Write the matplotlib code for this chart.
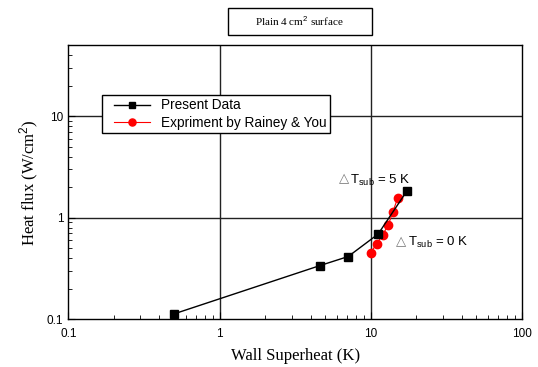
import matplotlib
matplotlib.use("Agg")
import matplotlib.pyplot as plt
from matplotlib import patches
from matplotlib.legend_handler import HandlerLine2D

plt.rcParams['font.family'] = ['Liberation Sans', 'DejaVu Sans']
plt.rcParams['mathtext.fontset'] = 'custom'
plt.rcParams['mathtext.rm'] = 'Liberation Sans'
plt.rcParams['mathtext.it'] = 'Liberation Sans:italic'

# present data (black squares)
present_x = [0.5, 4.62, 7.1, 11.2, 17.3]
present_y = [0.113, 0.338, 0.415, 0.69, 1.82]

# Rainey & You (red circles)
rainey_x = [10.0, 10.96, 12.0, 13.1, 14.0, 15.1]
rainey_y = [0.454, 0.553, 0.68, 0.853, 1.14, 1.56]

fig = plt.figure(figsize=(5.38, 3.67), dpi=100)
ax = fig.add_axes([0.127, 0.130, 0.843, 0.747])

l1, = ax.plot(present_x, present_y, color="black", lw=1, marker="s", ms=5.5,
              label="Present Data", zorder=4)
l2, = ax.plot(rainey_x, rainey_y, color="red", lw=0.8, marker="o", ms=6,
              label="Expriment by Rainey & You", zorder=3)

ax.set_xscale("log")
ax.set_yscale("log")
ax.set_xlim(0.1, 100)
ax.set_ylim(0.1, 50)

for v in [1, 10]:
    ax.axvline(v, color="#222222", lw=1, zorder=1)
    ax.axhline(v, color="#222222", lw=1, zorder=1)

ax.set_xticks([0.1, 1, 10, 100])
ax.set_xticklabels(["0.1", "1", "10", "100"])
ax.set_yticks([0.1, 1, 10])
ax.set_yticklabels(["0.1", "1", "10"])
ax.tick_params(which="both", direction="in", labelsize=8.5)
ax.tick_params(axis="x", pad=6)
ax.tick_params(which="major", length=5)
ax.tick_params(which="minor", length=3)
for s in ax.spines.values():
    s.set_linewidth(1)

ax.set_xlabel("Wall Superheat (K)", family="Liberation Serif", fontsize=12,
              labelpad=6)
ax.set_ylabel("Heat flux (W/cm$^2$)", family="Liberation Serif", fontsize=12)

# delta T annotations: triangle glyph drawn separately (DejaVu has it)
for (tx, ty, lab) in [(6.2, 2.32, "5 K"), (14.8, 0.566, "0 K")]:
    ax.annotate("\u25b3", (tx, ty), xytext=(0, 1), textcoords="offset points",
                fontsize=9.5, va="center", color="#777777", family="DejaVu Sans")
    ax.annotate("T$_{\\mathrm{sub}}$ = " + lab, (tx, ty), xytext=(8, 0),
                textcoords="offset points", fontsize=9.5, va="center")

hm = {l1: HandlerLine2D(xpad=0.66), l2: HandlerLine2D(xpad=0.66)}
leg = ax.legend(loc="upper left", bbox_to_anchor=(0.074, 0.818), fontsize=9.8,
                fancybox=False, edgecolor="black", framealpha=1,
                handlelength=3.26, borderpad=0.25, labelspacing=0.25,
                borderaxespad=0, markerscale=0.85, handler_map=hm)
leg.get_frame().set_linewidth(1)

fig.add_artist(patches.Rectangle((0.424, 0.905), 0.267, 0.074,
                                 transform=fig.transFigure, fc="white",
                                 ec="black", lw=1))
fig.text(0.557, 0.942, "Plain 4 cm$^2$ surface", family="Liberation Serif",
         fontsize=8, ha="center", va="center")

fig.savefig("out.png", dpi=100)
